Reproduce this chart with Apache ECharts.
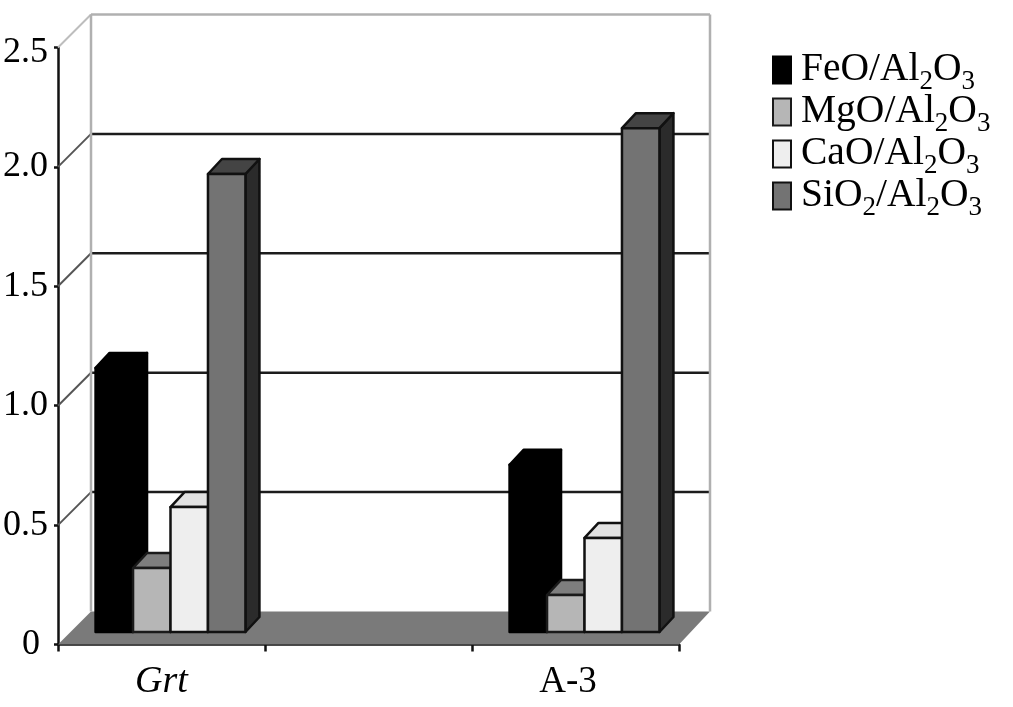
<!DOCTYPE html>
<html><head><meta charset="utf-8">
<style>html,body{margin:0;padding:0;background:#fff}#c{width:1013px;height:707px}</style>
<script src="https://cdn.jsdelivr.net/npm/echarts@6/dist/echarts.min.js"></script>
</head><body><div id="c"></div>
<script>
const categories = ['Grt', '', 'A-3'];
const yTicks = [0, 0.5, 1.0, 1.5, 2.0, 2.5];
const feo  = [1.106, null, 0.70];
const mgo  = [0.268, null, 0.155];
const cao  = [0.523, null, 0.394];
const sio2 = [1.918, null, 2.11];

const FONT = '"Liberation Serif","Times New Roman",serif';
const WALL = 33, BASE = 12.5, DX = 14, DY = 15, BW = 0.181, SHIFT = 9;

const styles = [
  {front:'#000000', cap:'#000000', side:'#000000', line:'#000000'},
  {front:'#b6b6b6', cap:'#7e7e7e', side:'#555555', line:'#1a1a1a'},
  {front:'#eeeeee', cap:'#e2e2e2', side:'#aaaaaa', line:'#111111'},
  {front:'#737373', cap:'#444444', side:'#2b2b2b', line:'#111111'}
];

function barRender(k) {
  return function (params, api) {
    const v = api.value(1);
    if (v == null || isNaN(v)) return;
    const p = api.coord([api.value(0), v]);
    const o = api.coord([api.value(0), 0]);
    const w = api.size([1, 0])[0] * BW;
    const x0 = p[0] + SHIFT + (k - 2) * w, x1 = x0 + w;
    const y0 = p[1] - BASE, y1 = o[1] - BASE;
    const s = styles[k];
    const st = c => ({fill: c, stroke: s.line, lineWidth: 2.5, lineJoin: 'round'});
    return {type: 'group', children: [
      {type:'polygon', shape:{points:[[x1,y0],[x1+DX,y0-DY],[x1+DX,y1-DY],[x1,y1]]}, style:st(s.side)},
      {type:'polygon', shape:{points:[[x0,y0],[x0+DX,y0-DY],[x1+DX,y0-DY],[x1,y0]]}, style:st(s.cap)},
      {type:'rect', shape:{x:x0,y:y0,width:w,height:y1-y0}, style:st(s.front)}
    ]};
  };
}
function toData(arr){ return arr.map((v,i)=>[i,v]).filter(d=>d[1]!==null); }

function floorRender(params, api) {
  const c = params.coordSys;
  const y = api.coord([0, api.value(0)])[1];
  const l = c.x, r = c.x + c.width;
  return {type:'polygon', shape:{points:[[l,y],[l+WALL,y-WALL],[r+WALL-2,y-WALL],[r,y]]},
    style:{fill:'#7a7a7a'}};
}
function wallRender(params, api) {
  const c = params.coordSys, v = api.value(0);
  const y = api.coord([0, v])[1];
  const l = c.x, r = c.x + c.width;
  const top = v === 2.5, zero = v === 0;
  const col = top ? '#b0b0b0' : '#1c1c1c';
  const kids = [];
  if (!zero) {
    kids.push({type:'line', shape:{x1:l,y1:y,x2:l+WALL,y2:y-WALL}, style:{stroke: top ? '#bdbdbd' : '#555555', lineWidth:2}});
    kids.push({type:'line', shape:{x1:l+WALL,y1:y-WALL,x2:r+WALL-2,y2:y-WALL}, style:{stroke:col, lineWidth:2.5}});
  }
  if (top) {
    const y0 = api.coord([0, 0])[1];
    kids.push({type:'line', shape:{x1:l+WALL,y1:y-WALL,x2:l+WALL,y2:y0-WALL}, style:{stroke:'#b0b0b0', lineWidth:2.5}});
    kids.push({type:'line', shape:{x1:r+WALL-2,y1:y-WALL,x2:r+WALL-2,y2:y0-WALL}, style:{stroke:'#b0b0b0', lineWidth:2.5}});
  }
  return {type:'group', children:kids};
}

const names = ['FeO/Al2O3','MgO/Al2O3','CaO/Al2O3','SiO2/Al2O3'];
const arrays = [feo, mgo, cao, sio2];

const option = {
  animation:false,
  backgroundColor:'#ffffff',
  grid:{left:58, right:334, top:47.5, bottom:62.5, containLabel:false},
  legend:{
    orient:'vertical', left:767, top:45, itemWidth:18, itemHeight:27, itemGap:-3.5, align:'left',
    icon:'rect', selectedMode:false, data:names,
    formatter:function(n){
      return '{g|}' + n.replace(/(\d)/g,'\u0001$1\u0001').split('\u0001').map((t,i)=> i%2 ? '{s|'+t+'}' : '{n|'+t+'}').join('');
    },
    textStyle:{
      fontFamily:FONT, color:'#000',
      rich:{
        g:{width:5,lineHeight:40},
        n:{fontFamily:FONT,fontSize:39.5,color:'#000',lineHeight:40,verticalAlign:'middle'},
        s:{fontFamily:FONT,fontSize:27,color:'#000',lineHeight:16,height:16,verticalAlign:'top',padding:[24,0,0,0]}
      }
    }
  },
  xAxis:{
    type:'category', data:categories, boundaryGap:true,
    axisLine:{lineStyle:{color:'#111',width:2.5}},
    axisTick:{show:true,length:7,lineStyle:{color:'#111',width:2.5}},
    axisLabel:{
      interval:0, margin:19, fontFamily:FONT, color:'#000', fontSize:36,
      formatter:v=> v==='Grt' ? '{i|'+v+'}' : (v ? '{r|'+v+'}' : ''),
      rich:{
        i:{fontFamily:FONT,fontStyle:'italic',fontSize:38,color:'#000'},
        r:{fontFamily:FONT,fontSize:37,color:'#000',padding:[0,15,0,0]}
      }
    }
  },
  yAxis:{
    type:'value', min:0, max:2.5, interval:0.5,
    axisLine:{show:true,lineStyle:{color:'#111',width:2.5}},
    axisTick:{show:true,length:4,lineStyle:{color:'#111',width:2.5}},
    splitLine:{show:false},
    axisLabel:{
      margin:10, fontFamily:FONT, color:'#000', fontSize:36,
      formatter:v=> v===0 ? '{z|0}' : v===2.5 ? '{t|2.5}' : v.toFixed(1),
      rich:{
        z:{fontFamily:FONT,fontSize:36,color:'#000',padding:[0,8,0,0]},
        t:{fontFamily:FONT,fontSize:36,color:'#000',padding:[10,0,0,0]}
      }
    }
  },
  series:[
    {type:'custom', silent:true, coordinateSystem:'cartesian2d', z:1, data:[[0]], encode:{y:0}, renderItem:floorRender},
    {type:'custom', silent:true, coordinateSystem:'cartesian2d', z:2, data:yTicks.map(v=>[v]), encode:{y:0}, renderItem:wallRender},
  ].concat(names.map((n,k)=>({
    type:'custom', name:n, silent:true, coordinateSystem:'cartesian2d', z:3+k,
    itemStyle:{color:styles[k].front, borderColor:styles[k].line, borderWidth:2.5},
    encode:{x:0,y:1}, data:toData(arrays[k]), renderItem:barRender(k)
  })))
};
const chart = echarts.init(document.getElementById('c'), null, {renderer:'canvas'});
chart.setOption(option);
</script></body></html>
